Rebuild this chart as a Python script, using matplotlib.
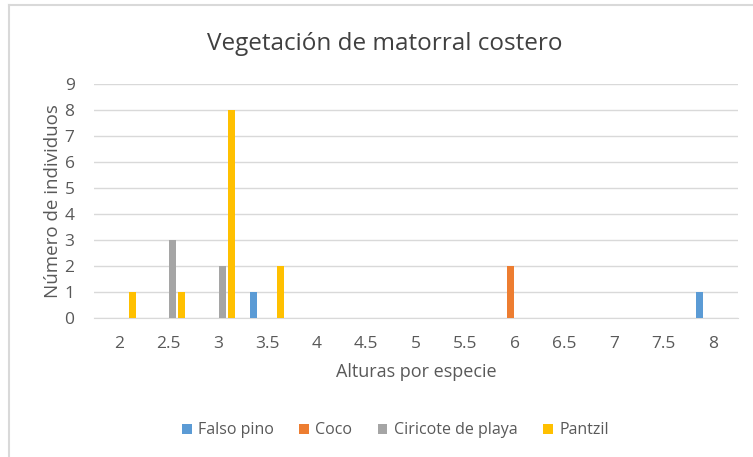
import numpy as np
import matplotlib.pyplot as plt
from matplotlib.lines import Line2D

plt.rcParams['font.family'] = ['Open Sans', 'DejaVu Sans']

alturas = ['2', '2.5', '3', '3.5', '4', '4.5', '5', '5.5', '6', '6.5', '7', '7.5', '8']
falso_pino = [0, 0, 0, 1, 0, 0, 0, 0, 0, 0, 0, 0, 1]
coco = [0, 0, 0, 0, 0, 0, 0, 0, 2, 0, 0, 0, 0]
ciricote = [0, 3, 2, 0, 0, 0, 0, 0, 0, 0, 0, 0, 0]
pantzil = [1, 1, 8, 2, 0, 0, 0, 0, 0, 0, 0, 0, 0]

series = [('Falso pino', falso_pino, '#5B9BD5'),
          ('Coco', coco, '#ED7D31'),
          ('Ciricote de playa', ciricote, '#A5A5A5'),
          ('Pantzil', pantzil, '#FFC000')]

text_col = '#595959'

fig = plt.figure(figsize=(7.53, 4.57), dpi=100)
# chart frame: only the top and left edges show
fig.add_artist(Line2D([0.0115, 0.0115], [0.0, 0.989], transform=fig.transFigure,
                      color='#D9D9D9', linewidth=1.5))
fig.add_artist(Line2D([0.0115, 1.0], [0.989, 0.989], transform=fig.transFigure,
                      color='#D9D9D9', linewidth=1.5))

ax = fig.add_axes([0.1248, 0.304, 0.855, 0.512])
x = np.arange(len(alturas))
step = 0.182
width = 0.14
for i, (name, vals, col) in enumerate(series):
    ax.bar(x + (i - 1.5) * step, vals, width, color=col, label=name, zorder=3)

ax.set_xlim(-0.5, len(alturas) - 0.5)
ax.set_ylim(0, 9)
ax.set_yticks(range(10))
ax.set_xticks(x)
ax.set_xticklabels(alturas)
ax.yaxis.grid(True, color='#D9D9D9', linewidth=1)
ax.set_axisbelow(True)
for s in ['top', 'right', 'left']:
    ax.spines[s].set_visible(False)
ax.spines['bottom'].set_color('#D9D9D9')
ax.tick_params(length=0, colors=text_col, labelsize=12.5)
ax.tick_params(axis='x', pad=13)
ax.tick_params(axis='y', pad=14)

ax.set_xlabel('Alturas por especie', color=text_col, fontsize=13, labelpad=8)
ax.set_ylabel('Número de individuos', color=text_col, fontsize=13.5, labelpad=2)
fig.text(0.511, 0.903, 'Vegetación de matorral costero', ha='center', va='center',
         fontsize=17.5, color='#404040')

fig.legend(loc='center', bbox_to_anchor=(0.525, 0.058), ncol=4, frameon=False,
           fontsize=11.5, handlelength=0.6, handleheight=0.6, columnspacing=1.6,
           handletextpad=0.4, labelcolor=text_col)

fig.savefig('out.png', dpi=100)
